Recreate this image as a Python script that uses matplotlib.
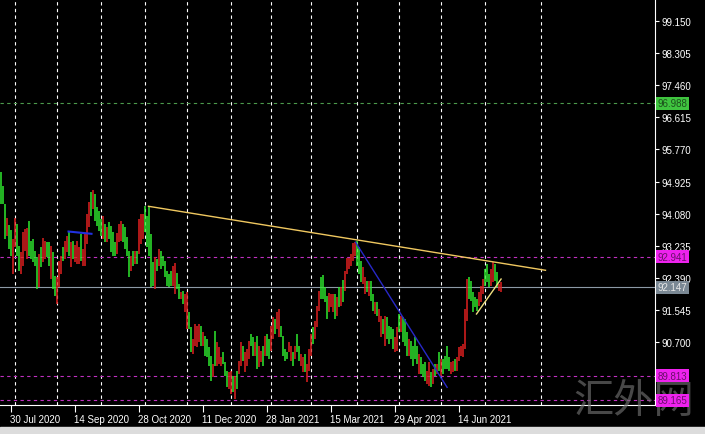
import pandas as pd
import numpy as np
import matplotlib
matplotlib.use('Agg')
import matplotlib.pyplot as plt
import matplotlib.transforms as mtransforms
from matplotlib.patches import Rectangle

plt.rcParams['font.family'] = ['Liberation Sans', 'DejaVu Sans']

# daily bars, 23 Jul 2020 .. 13 Jul 2021 (no bars on 25 Dec, 1 Jan, 2 Apr)
first_day = '2020-07-23'
last_day = '2021-07-13'
closed_days = ['2020-12-25', '2021-01-01', '2021-04-02']
future_sep = '2021-08-02'

highs = [
    95.18, 94.81, 94.34, 93.97, 93.78, 93.65, 93.41, 93.97, 93.81, 93.23,
    93.07, 93.60, 93.68, 93.70, 93.89, 93.36, 93.41, 93.10, 92.94, 93.02,
    93.20, 93.44, 93.36, 93.34, 93.34, 93.23, 93.07, 92.44, 92.41, 92.84,
    92.97, 93.20, 93.36, 93.49, 93.60, 93.34, 93.36, 93.26, 93.36, 93.20,
    93.55, 93.15, 93.55, 94.07, 94.39, 94.65, 94.70, 94.60, 94.26, 94.15,
    93.94, 94.02, 93.81, 93.73, 93.86, 93.76, 93.60, 93.34, 93.57, 93.81,
    93.89, 93.81, 93.73, 93.47, 93.10, 92.97, 93.10, 93.10, 93.10, 93.94,
    94.07, 94.07, 94.28, 94.02, 94.28, 93.55, 92.81, 92.94, 92.89, 93.15,
    93.10, 92.97, 92.84, 92.57, 92.49, 92.57, 92.70, 92.78, 92.52, 92.23,
    92.02, 92.05, 91.97, 92.02, 91.49, 91.10, 90.78, 91.18, 91.12, 91.18,
    91.12, 90.97, 90.86, 90.78, 90.57, 90.34, 90.12, 90.99, 90.70, 90.57,
    90.31, 90.44, 90.18, 89.94, 89.91, 89.94, 89.81, 89.81, 89.94, 90.20,
    90.70, 90.60, 90.44, 90.52, 90.73, 90.91, 90.83, 90.70, 90.86, 90.60,
    90.47, 90.60, 90.86, 90.91, 90.78, 91.12, 91.36, 91.31, 91.49, 91.57,
    91.12, 90.86, 90.52, 90.44, 90.70, 90.60, 90.44, 90.60, 90.91, 90.60,
    90.39, 90.31, 90.39, 90.12, 90.52, 90.91, 91.10, 91.26, 91.65, 92.05,
    92.41, 92.47, 92.15, 91.91, 91.99, 91.97, 91.97, 91.97, 91.89, 92.15,
    92.15, 92.34, 92.57, 92.91, 92.91, 93.02, 93.31, 93.34, 93.36, 93.20,
    92.84, 92.68, 92.41, 92.31, 92.31, 92.31, 91.97, 91.76, 91.76, 91.57,
    91.39, 91.31, 91.39, 91.36, 91.12, 91.10, 91.05, 90.83, 91.10, 91.44,
    91.39, 91.36, 91.31, 90.97, 90.78, 90.73, 90.60, 90.83, 90.60, 90.39,
    90.31, 90.12, 90.18, 89.94, 90.18, 89.91, 89.99, 90.12, 90.12, 90.44,
    90.26, 90.26, 90.34, 90.60, 90.31, 90.18, 90.20, 90.26, 90.31, 90.57,
    90.60, 90.65, 91.57, 92.36, 92.41, 92.31, 92.02, 91.89, 91.84, 92.02,
    92.18, 92.36, 92.62, 92.76, 92.49, 92.62, 92.80, 92.76, 92.55, 92.23, 92.28,
]
lows = [
    94.34, 94.34, 93.41, 93.49, 93.15, 92.97, 92.49, 93.20, 92.97, 92.57,
    92.49, 92.70, 93.10, 92.89, 92.97, 92.89, 92.81, 92.70, 92.10, 92.15,
    92.68, 92.81, 92.89, 92.94, 92.70, 92.36, 92.10, 91.91, 91.70, 92.15,
    92.49, 92.84, 92.89, 93.07, 92.97, 92.68, 92.89, 92.81, 92.76, 92.76,
    92.84, 92.70, 92.70, 93.28, 93.73, 94.02, 94.20, 93.89, 93.76, 93.62,
    93.49, 93.41, 93.34, 93.34, 93.41, 93.07, 92.97, 92.97, 93.02, 93.34,
    93.36, 93.34, 93.15, 92.97, 92.41, 92.57, 92.70, 92.76, 92.76, 93.02,
    93.28, 93.41, 93.60, 93.20, 92.97, 92.15, 92.18, 92.10, 92.57, 92.70,
    92.62, 92.70, 92.41, 92.18, 92.15, 92.18, 92.18, 91.97, 92.10, 91.84,
    91.84, 91.70, 91.49, 91.05, 91.05, 90.44, 90.39, 90.60, 90.57, 90.70,
    90.60, 90.60, 90.34, 90.31, 90.07, 89.68, 89.78, 90.07, 90.07, 90.12,
    90.07, 90.12, 89.81, 89.52, 89.47, 89.34, 89.39, 89.20, 89.47, 89.86,
    90.07, 90.20, 89.91, 90.07, 90.26, 90.60, 90.34, 90.34, 89.99, 90.05,
    90.18, 90.07, 90.34, 90.34, 90.26, 90.47, 90.78, 90.91, 91.05, 90.83,
    90.83, 90.34, 90.20, 90.26, 90.44, 90.20, 90.07, 90.26, 90.44, 90.20,
    90.07, 89.91, 89.91, 89.65, 89.94, 90.34, 90.65, 90.78, 91.10, 91.52,
    91.84, 91.84, 91.76, 91.31, 91.49, 91.62, 91.49, 91.31, 91.39, 91.62,
    91.65, 91.76, 92.05, 92.49, 92.62, 92.70, 92.84, 92.97, 92.70, 92.49,
    92.28, 92.23, 91.97, 92.02, 91.91, 91.78, 91.52, 91.44, 91.39, 91.23,
    90.83, 90.91, 90.60, 90.78, 90.65, 90.78, 90.52, 90.44, 90.47, 90.97,
    90.97, 90.70, 90.60, 90.34, 90.34, 90.26, 90.07, 90.26, 90.12, 89.86,
    89.86, 89.78, 89.68, 89.60, 89.55, 89.52, 89.60, 89.81, 89.86, 89.94,
    89.81, 89.86, 89.99, 89.99, 89.94, 89.86, 89.91, 89.94, 89.94, 90.20,
    90.34, 90.31, 90.52, 91.26, 91.84, 91.78, 91.49, 91.62, 91.52, 91.65,
    91.76, 91.97, 92.18, 92.28, 92.15, 92.18, 92.28, 92.31, 92.15, 92.05, 92.02,
]
# G = up bar, R = down bar
bar_dir = ("GGGRGGRRGG" "RRRRGGGGGR" "GRRGGRGGRR" "RGRRGRGRRR" "GRRRRGRGGG"
           "GRGRGGGGRR" "RGGGGRGRGR" "RRGGGGGRGR" "GGGGGGRRGG" "RGRRGGRRRR"
           "GRGGGGRGRR" "RGGGRRGRGR" "RGRRRGGRGR" "RGRGGRRGRR" "GGGGRRGRGG"
           "RRGRRRGRRR" "GGGGRRRGRG" "RGRRRRRRGG" "GRRGRGGRGR" "RGRGGGGRRG"
           "RGGGRGGGGR" "GGGRRGRGRG" "RGGGGRRGRR" "RRRRGGGGGR" "RRGGGRRGGRR")

y_ticks = [90.700, 91.545, 92.390, 93.235, 94.080, 94.925, 95.770, 96.615,
           97.460, 98.305, 99.150]

level_prices = [96.988, 92.941, 92.147, 89.813, 89.165]
level_kinds = ['green', 'magenta', 'gray', 'magenta', 'magenta']

# trend lines as (bar number, price)
resist_x, resist_y = [74, 272.5], [94.274, 92.59]
fall_x, fall_y = [177.5, 223.3], [93.33, 89.51]
rise_x, rise_y = [238, 250.3], [91.44, 92.36]
short_x, short_y = [34, 45.5], [93.61, 93.55]

dates = pd.bdate_range(first_day, last_day, freq='C', holidays=closed_days)
n = len(dates)
x = np.arange(n)

fig = plt.figure(figsize=(7.05, 4.35), dpi=100, facecolor='black')
ax = fig.add_axes([0, 29/435, 655/705, 406/435], facecolor='black')

cols = ['#2ee82e' if c == 'G' else '#e02020' for c in bar_dir]
ax.vlines(x, lows, highs, colors=cols, lw=1.1, zorder=3)

# month separators
seps = [i for i in range(1, n) if dates[i].month != dates[i-1].month]
seps.append(n - 1 + (pd.Timestamp(future_sep) - dates[-1]).days)
for s in seps:
    ax.axvline(s, color='white', lw=0.8, ls=(0, (3, 3)), zorder=1)

styles = {'green': ('#4c9a4c', (0, (3, 3)), '#3fc43f', '#1c4f1c'),
          'magenta': ('#c030c0', (0, (3, 3)), '#ee22ee', '#6a106a'),
          'gray': ('#8c99a6', '-', '#7a8894', '#e8e8e8')}
trans = mtransforms.blended_transform_factory(ax.transAxes, ax.transData)
for p, k in zip(level_prices, level_kinds):
    lc, ls, bc, tc = styles[k]
    ax.axhline(p, color=lc, lw=0.8, ls=ls, zorder=2)
    ax.text(1.004, p, '%.3f' % p, transform=trans, va='center', ha='left',
            fontsize=7, color=tc, clip_on=False, zorder=7,
            bbox=dict(boxstyle='square,pad=0.15', fc=bc, ec='none'))

ax.plot(resist_x, resist_y, color='#f0c860', lw=1, zorder=4)
ax.plot(fall_x, fall_y, color='#2828c8', lw=1, zorder=4)
ax.plot(rise_x, rise_y, color='#f0e080', lw=1, zorder=4)
ax.plot(short_x, short_y, color='#2030e0', lw=1.5, zorder=4)

ax.set_xlim(-0.25, 327.25)
ax.set_ylim(89.045, 99.729)

ax.yaxis.tick_right()
ax.set_yticks(y_ticks)
ax.set_yticklabels(['%.3f' % t for t in y_ticks])
lab_idx = list(range(5, n, 32))
ax.set_xticks(lab_idx)
ax.set_xticklabels([dates[i].strftime('%d %b %Y') for i in lab_idx], ha='left')
ax.tick_params(axis='y', colors='white', labelsize=7, length=3, width=0.8, pad=1.5)
ax.tick_params(axis='x', colors='white', labelsize=7, length=5, width=0.8, pad=1.5)

for side in ['top', 'left']:
    ax.spines[side].set_visible(False)
for side in ['right', 'bottom']:
    ax.spines[side].set_color('white')
    ax.spines[side].set_linewidth(0.8)

fig.patches.append(Rectangle((0, 0), 1, 7/435, transform=fig.transFigure,
                             color='#dcdcdc', zorder=0))
# watermark, drawn under the price boxes
ax.text(0.899, 0.078, '汇外网', transform=fig.transFigure,
        family=['Noto Sans CJK SC', 'DejaVu Sans'], fontsize=29,
        color='#707070', alpha=0.65, ha='center', va='center',
        clip_on=False, zorder=5)

fig.savefig('out.png', dpi=100, facecolor='black')
